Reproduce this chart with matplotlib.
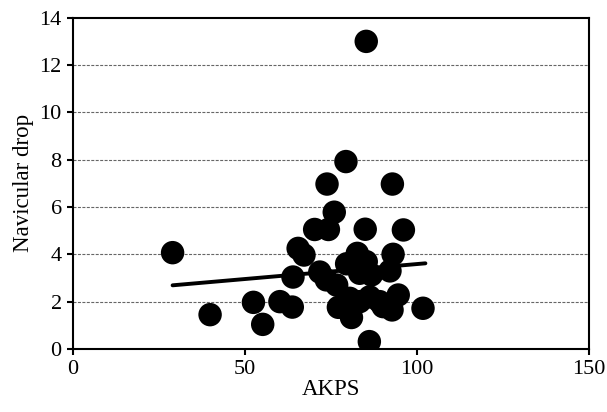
import matplotlib
matplotlib.use("Agg")
import matplotlib.pyplot as plt
import numpy as np

plt.rcParams['font.family'] = ['Liberation Serif', 'DejaVu Serif']

akps = [29.0, 39.9, 52.5, 55.2, 60.2, 63.8, 64.0, 65.5, 67.2, 70.3,
        71.8, 73.9, 74.3, 73.7, 76.0, 76.7, 77.2, 79.6, 79.4, 80.5,
        81.0, 82.7, 83.4, 85.0, 85.3, 85.3, 86.2, 86.8, 86.3, 89.2,
        90.2, 92.2, 93.1, 92.9, 92.8, 94.6, 96.1, 101.8, 83.4]
nav_drop = [4.07, 1.45, 1.97, 1.04, 2.0, 1.77, 3.04, 4.25, 3.97, 5.05,
            3.25, 6.97, 5.05, 2.92, 5.78, 2.7, 1.76, 3.6, 7.92, 2.14,
            1.33, 4.04, 2.0, 5.06, 3.69, 13.0, 0.31, 3.13, 2.2, 2.0,
            1.79, 3.3, 4.0, 6.97, 1.65, 2.28, 5.03, 1.72, 3.2]

fit_slope = 0.01265
fit_intercept = 2.323
fit_range = [29.0, 102.5]

xticks = [0, 50, 100, 150]
yticks = [0, 2, 4, 6, 8, 10, 12, 14]

fig = plt.figure(figsize=(6.07, 4.12), dpi=100)
ax = fig.add_axes([0.120, 0.153, 0.850, 0.804])

for yv in yticks[1:-1]:
    ax.axhline(yv, color='#666666', lw=0.8, linestyle=(0, (2.7, 1.3)), zorder=1)

ax.scatter(akps, nav_drop, s=285, color='black', edgecolors='none', zorder=3)

fx = np.array(fit_range)
ax.plot(fx, fit_intercept + fit_slope * fx, color='black', lw=2.8,
        solid_capstyle='round', zorder=4)

ax.set_xlim(0, 150)
ax.set_ylim(0, 14)
ax.set_xticks(xticks)
ax.set_yticks(yticks)
ax.tick_params(direction='out', length=4.5, width=1.5, labelsize=16)
for sp in ax.spines.values():
    sp.set_linewidth(1.5)
ax.set_xlabel('AKPS', fontsize=16.5, labelpad=0)
ax.set_ylabel('Navicular drop', fontsize=16.5, labelpad=4)

fig.savefig('out.png', dpi=100)
